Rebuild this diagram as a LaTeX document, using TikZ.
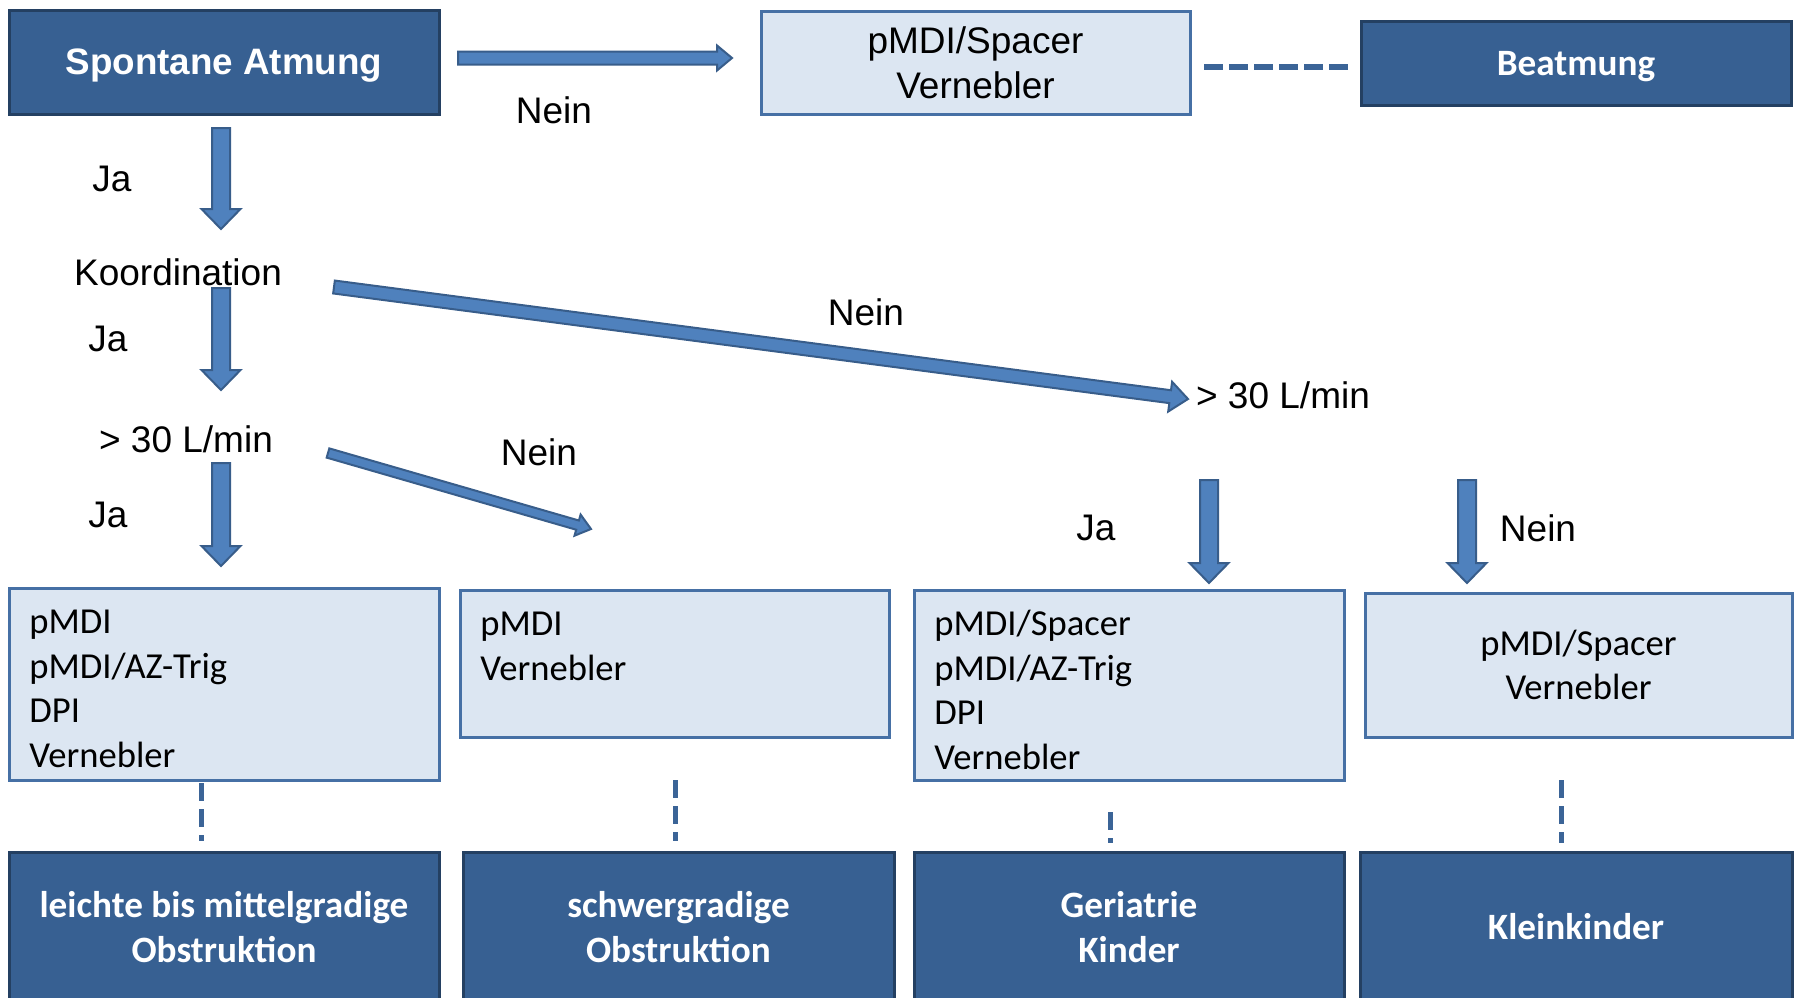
\documentclass[tikz,border=0pt]{standalone}
\usepackage{fontspec}
\setmainfont{Liberation Sans}
\newfontfamily\calibri{Carlito}
\usetikzlibrary{calc}
\definecolor{darkfill}{RGB}{55,96,146}
\definecolor{darkline}{RGB}{36,64,98}
\definecolor{lightfill}{RGB}{220,230,242}
\definecolor{lightline}{RGB}{70,112,165}
\definecolor{arrfill}{RGB}{79,129,189}
\definecolor{arrline}{RGB}{56,93,138}
\definecolor{dashcol}{RGB}{59,100,151}
\tikzset{
  darkbox/.style={draw=darkline, fill=darkfill, line width=1.5pt, text=white, inner sep=0pt, outer sep=0pt, anchor=north west, align=center},
  lightbox/.style={draw=lightline, fill=lightfill, line width=1.5pt, inner sep=0pt, outer sep=0pt, anchor=north west, align=center},
  arial/.style={font=\fontsize{18.5}{22.5}\selectfont},
  arialbold/.style={font=\fontsize{18.4}{22.5}\selectfont\bfseries},
  cal/.style={font=\calibri\fontsize{18.3}{22.3}\selectfont},
  calbold/.style={font=\calibri\bfseries\fontsize{18.6}{22.3}\selectfont},
  lbl/.style={arial, inner sep=0pt},
  boxtext/.style={cal, inner sep=0pt, anchor=north west, align=left},
  barrow/.style={fill=arrfill, draw=arrline, line width=1pt, line join=miter},
  dashln/.style={draw=dashcol, line width=2.5pt, dash pattern=on 9pt off 4pt},
}
\newcommand\blockarrow[5]{%
  \coordinate (bahead) at ($(#2)!#5!(#1)$);
  \filldraw[barrow]
    ($(#1)!#3!90:(#2)$) -- ($(bahead)!#3!-90:(#1)$) -- ($(bahead)!#4!-90:(#1)$) -- (#2)
    -- ($(bahead)!#4!90:(#1)$) -- ($(bahead)!#3!90:(#1)$) -- ($(#1)!#3!-90:(#2)$) -- cycle;
}
\begin{document}
\begin{tikzpicture}[x=0.5pt,y=-0.5pt]
\useasboundingbox (0,0) rectangle (1794,997);
\fill[white] (0,0) rectangle (1794,997);

% top row
\node[darkbox, arialbold, text depth=0pt, minimum width=215pt, minimum height=52pt] (spont) at (9,10) {Spontane Atmung};
\node[lightbox, arial, minimum width=214.5pt, minimum height=51.5pt] (topbox) at (761,11) {pMDI/Spacer\\Vernebler};
\node[darkbox, calbold, text depth=0pt, minimum width=215pt, minimum height=42pt] (beat) at (1361,21) {Beatmung};

% middle boxes
\node[lightbox, minimum width=215pt, minimum height=96pt] (b1) at (9,588) {};
\node[lightbox, minimum width=214.5pt, minimum height=73.5pt] (b2) at (460,590) {};
\node[lightbox, minimum width=215pt, minimum height=95pt] (b3) at (914,590) {};
\node[lightbox, cal, minimum width=213.5pt, minimum height=72pt] (b4) at (1365,593) {pMDI/Spacer\\Vernebler};

\node[boxtext] (t1) at ($(b1.north west)+(20,17)$) {\rule{0pt}{14pt}pMDI\\pMDI/AZ-Trig\\DPI\\Vernebler};
\node[boxtext] (t2) at ($(b2.north west)+(20,17)$) {\rule{0pt}{14pt}pMDI\\Vernebler};
\node[boxtext] (t3) at ($(b3.north west)+(20,17)$) {\rule{0pt}{14pt}pMDI/Spacer\\pMDI/AZ-Trig\\DPI\\Vernebler};

% bottom boxes
\node[darkbox, calbold, minimum width=215pt, minimum height=75pt] (c1) at (9,852) {leichte bis mittelgradige\\Obstruktion};
\node[darkbox, calbold, minimum width=215.5pt, minimum height=75pt] (c2) at (463,852) {schwergradige\\Obstruktion};
\node[darkbox, calbold, minimum width=215pt, minimum height=75pt] (c3) at (914,852) {Geriatrie\\Kinder};
\node[darkbox, calbold, minimum width=216pt, minimum height=75pt] (c4) at (1360,852) {Kleinkinder};

% labels
\node[lbl] (koord) at (178,272) {Koordination};
\node[lbl] (flowL) at (186,439) {> 30 L/min};
\node[lbl] (flowR) at (1283,395) {> 30 L/min};
\node[lbl] (nein1) at (554,110) {Nein};
\node[lbl] (ja1) at (112,179) {Ja};
\node[lbl] (ja2) at (108,339) {Ja};
\node[lbl] (ja3) at (108,515) {Ja};
\node[lbl] (nein2) at (866,312) {Nein};
\node[lbl] (nein3) at (539,452) {Nein};
\node[lbl] (ja4) at (1096,528) {Ja};
\node[lbl] (nein4) at (1538,528) {Nein};

% arrow end points
\coordinate (a1s) at (458,58);   \coordinate (a1e) at (732,58);
\coordinate (a2s) at (221,128);  \coordinate (a2e) at (221,229);
\coordinate (a3s) at (221,288);  \coordinate (a3e) at (221,390);
\coordinate (a4s) at (221,463);  \coordinate (a4e) at (221,566);
\coordinate (a5s) at (334,287);  \coordinate (a5e) at (1188,399);
\coordinate (a6s) at (328,453);  \coordinate (a6e) at (591,529);
\coordinate (a7s) at (1209,480); \coordinate (a7e) at (1209,583);
\coordinate (a8s) at (1467,480); \coordinate (a8e) at (1467,583);

\blockarrow{a1s}{a1e}{3.25pt}{6.25pt}{7.5pt}
\blockarrow{a2s}{a2e}{4.5pt}{9.75pt}{10pt}
\blockarrow{a3s}{a3e}{4.5pt}{9.75pt}{10pt}
\blockarrow{a4s}{a4e}{4.5pt}{9.75pt}{10pt}
\blockarrow{a5s}{a5e}{3.25pt}{7.5pt}{9pt}
\blockarrow{a6s}{a6e}{2.4pt}{5.5pt}{7pt}
\blockarrow{a7s}{a7e}{4.5pt}{9.75pt}{10pt}
\blockarrow{a8s}{a8e}{4.5pt}{9.75pt}{10pt}

% dashed connectors
\coordinate (d0s) at (1204,67); \coordinate (d0e) at (1350,67);
\coordinate (d1s) at (201,783); \coordinate (d1e) at (201,841);
\coordinate (d2s) at (675,780); \coordinate (d2e) at (675,841);
\coordinate (d3s) at (1110,812); \coordinate (d3e) at (1110,843);
\coordinate (d4s) at (1561,780); \coordinate (d4e) at (1561,843);
\draw[dashln, line width=3pt, dash pattern=on 9.5pt off 3pt] (d0s) -- (d0e);
\draw[dashln] (d1s) -- (d1e);
\draw[dashln] (d2s) -- (d2e);
\draw[dashln] (d3s) -- (d3e);
\draw[dashln] (d4s) -- (d4e);
\end{tikzpicture}
\end{document}
